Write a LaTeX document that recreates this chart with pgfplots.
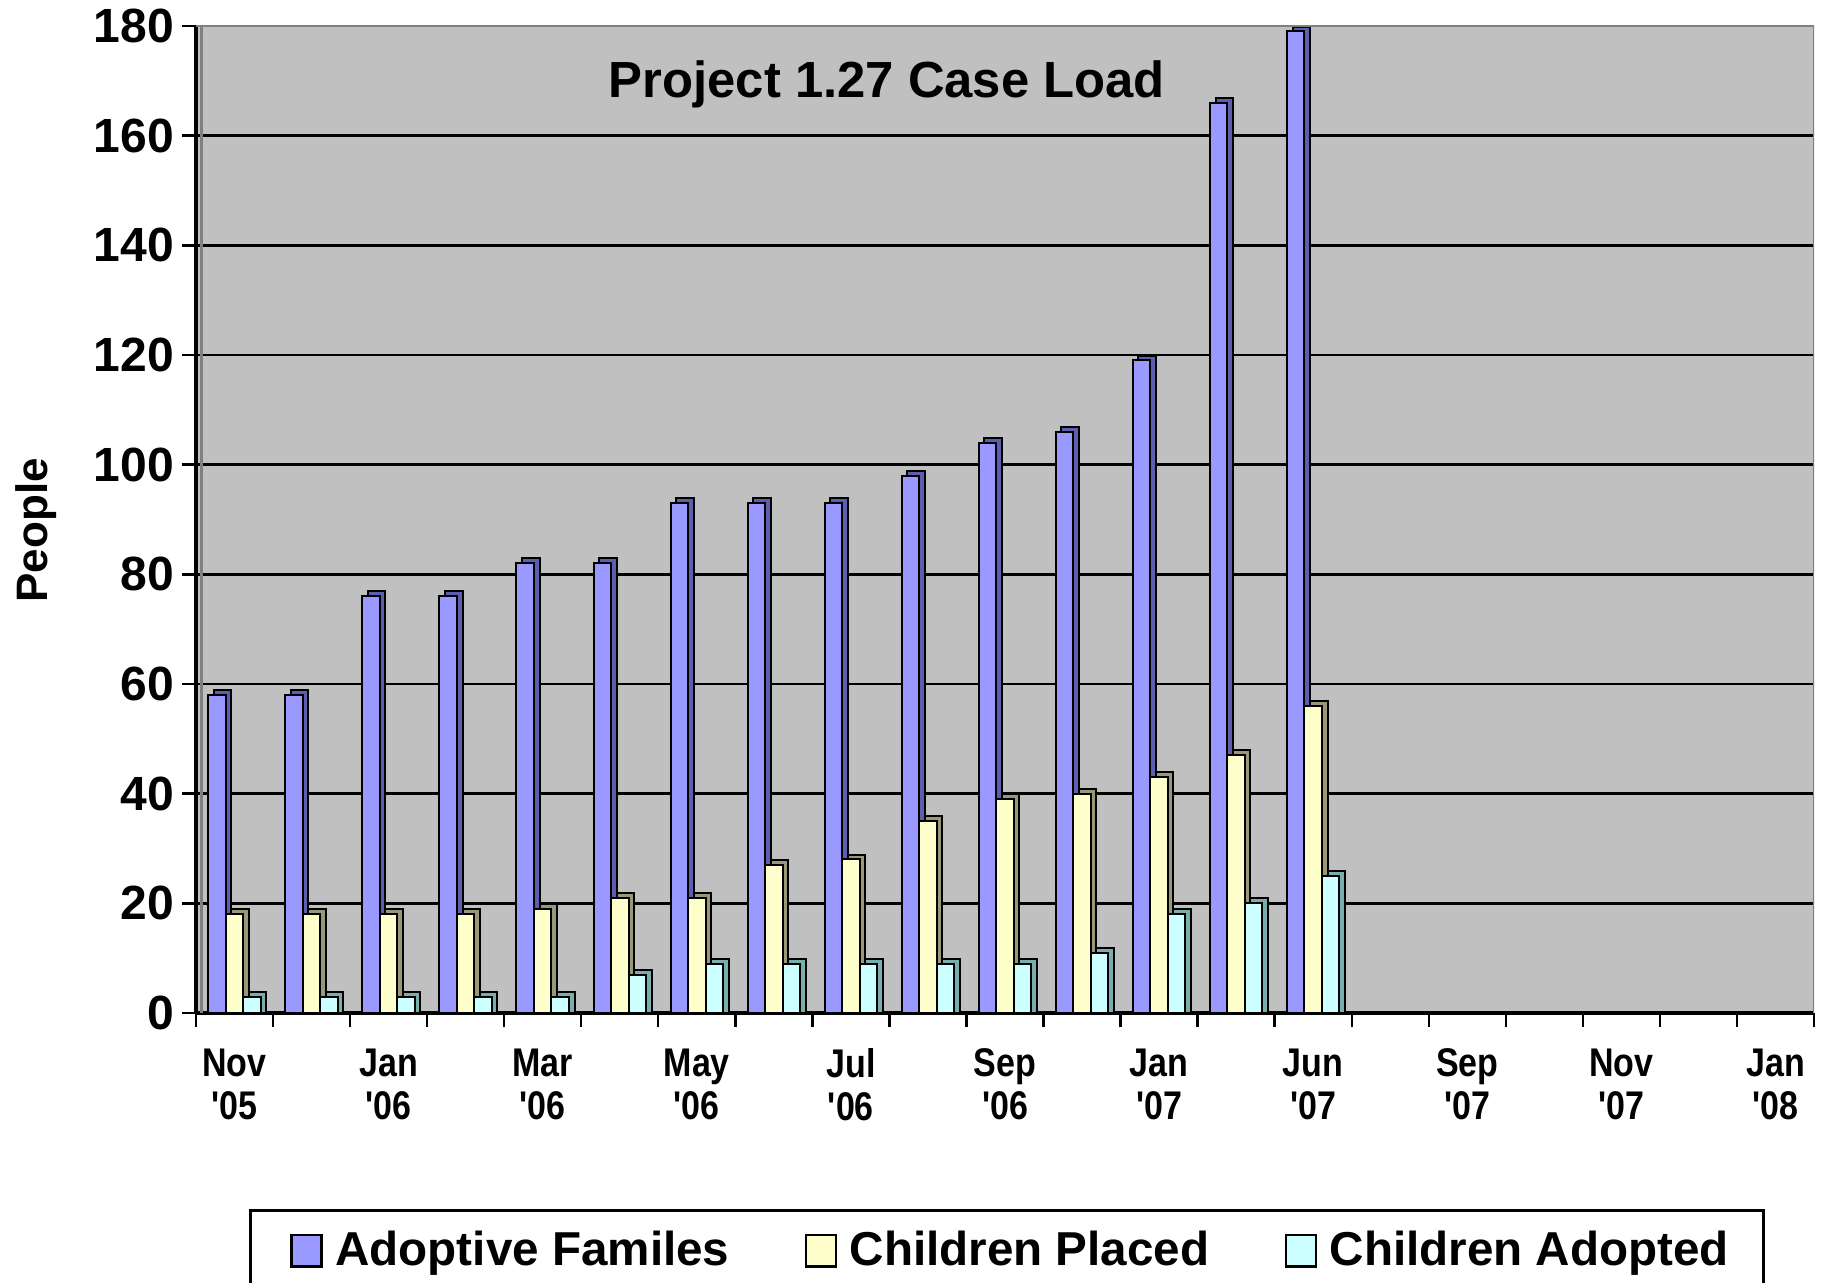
\documentclass[border=0pt]{standalone}
\usepackage{fontspec}
\setmainfont{Liberation Sans}[Ligatures=TeXOff]
\newfontfamily\narrowfont{Liberation Sans}[Ligatures=TeXOff, FakeStretch=0.85]
\usepackage{pgfplots}
\usepackage{pgfplotstable}
\pgfplotsset{compat=1.18}
\definecolor{bgc}{HTML}{C0C0C0}
\definecolor{cblue}{HTML}{9999FF}
\definecolor{cyel}{HTML}{FFFFCC}
\definecolor{ccya}{HTML}{CCFFFF}
\definecolor{dblue}{HTML}{5E5EAE}
\definecolor{dyel}{HTML}{999977}
\definecolor{dcya}{HTML}{7AADAD}
\pgfplotstableread{
x af cp ca
0 58 18 3
1 58 18 3
2 76 18 3
3 76 18 3
4 82 19 3
5 82 21 7
6 93 21 9
7 93 27 9
8 93 28 9
9 98 35 9
10 104 39 9
11 106 40 11
12 119 43 18
13 166 47 20
14 179 56 25
}\data
\begin{document}
\begin{tikzpicture}
\begin{axis}[
  scale only axis, width=404.5pt, height=246.75pt,
  xmin=-0.5, xmax=20.5, ymin=0, ymax=180,
  axis x line*=bottom, axis y line*=left,
  axis line style={black, line width=0.8pt},
  axis background/.style={fill=bgc},
  tick align=outside, major tick length=3.5pt,
  tick style={black, line width=0.6pt},
  ytick={0,20,...,180},
  ymajorgrids, grid style={black, line width=0.6pt},
  xtick={-0.5,0.5,...,20.5}, xticklabels={},
  extra x ticks={0,2,...,20},
  extra x tick labels={{Nov\\'05},{Jan\\'06},{Mar\\'06},{May\\'06},{Jul\\'06},{Sep\\'06},{Jan\\'07},{Jun\\'07},{Sep\\'07},{Nov\\'07},{Jan\\'08}},
  extra x tick style={major tick length=0pt, grid=none,
    tick label style={align=center, font=\narrowfont\fontsize{10}{10.8}\selectfont\bfseries, yshift=-5.4pt}},
  /pgf/number format/assume math mode=true,
  yticklabel style={font=\fontsize{12}{14}\selectfont\bfseries, xshift=1.5pt},
  ylabel={People},
  ylabel style={font=\fontsize{11}{13}\selectfont\bfseries, at={(axis description cs:-0.099,0.489)}, anchor=center},
  legend columns=3,
  legend style={at={(axis description cs:0.0328,-0.1986)}, anchor=north west,
    draw=black, line width=0.75pt, font=\fontsize{11.9}{14}\selectfont\bfseries,
    /tikz/every even column/.append style={column sep=13.4pt},
    inner xsep=6.55pt, inner ysep=3pt},
  legend image code/.code={\path (0pt,0pt) (12.15pt,0pt);
    \draw[#1,line width=0.6pt] (3.45pt,-3.9pt) rectangle (10.95pt,3.9pt);},
]
\addplot[ybar, bar width=4.37pt, bar shift=-2.97pt, fill=dblue, draw=black, line width=0.5pt, forget plot] table[x=x, y expr=\thisrow{af}+0.9]{\data};
\addplot[ybar, bar width=4.37pt, bar shift=-4.37pt, fill=cblue, draw=black, line width=0.5pt] table[x=x, y=af]{\data};
\addlegendentry{Adoptive Familes}
\addplot[ybar, bar width=4.37pt, bar shift=1.4pt, fill=dyel, draw=black, line width=0.5pt, forget plot] table[x=x, y expr=\thisrow{cp}+0.9]{\data};
\addplot[ybar, bar width=4.37pt, bar shift=0pt, fill=cyel, draw=black, line width=0.5pt] table[x=x, y=cp]{\data};
\addlegendentry{Children Placed}
\addplot[ybar, bar width=4.37pt, bar shift=5.77pt, fill=dcya, draw=black, line width=0.5pt, forget plot] table[x=x, y expr=\thisrow{ca}+0.9]{\data};
\addplot[ybar, bar width=4.37pt, bar shift=4.37pt, fill=ccya, draw=black, line width=0.5pt] table[x=x, y=ca]{\data};
\addlegendentry{Children Adopted}
\draw[gray, line width=0.5pt] (rel axis cs:0,1) -- (rel axis cs:1,1) -- (rel axis cs:1,0);
\draw[gray, line width=0.8pt] ([xshift=1.3pt]rel axis cs:0,0) -- ([xshift=1.3pt]rel axis cs:0,1);
\node[font=\fontsize{12.7}{15}\selectfont\bfseries] at (rel axis cs:0.427,0.941) {Project 1.27 Case Load};
\end{axis}
\pgfresetboundingbox
\path[use as bounding box] (-49pt,-67.25pt) rectangle (407.5pt,253.25pt);
\end{tikzpicture}
\end{document}
